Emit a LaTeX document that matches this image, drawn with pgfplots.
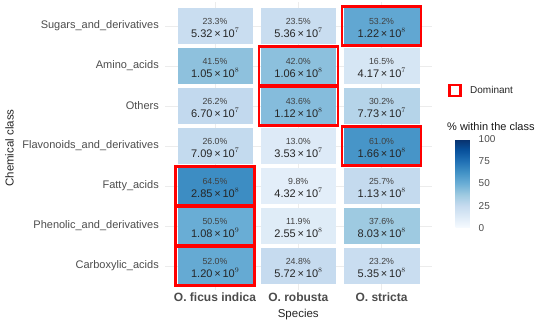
\documentclass[border=0pt]{standalone}
\usepackage{fontspec}
\setmainfont{Liberation Sans}
\usepackage{pgfplots}
\usepackage{pgfplotstable}
\pgfplotsset{compat=1.18}

\pgfplotstableread{
x y pct m e
1 7 23.3 5.32 7
1 6 41.5 1.05 8
1 5 26.2 6.70 7
1 4 26.0 7.09 7
1 3 64.5 2.85 8
1 2 50.5 1.08 9
1 1 52.0 1.20 9
2 7 23.5 5.36 7
2 6 42.0 1.06 8
2 5 43.6 1.12 8
2 4 13.0 3.53 7
2 3 9.8 4.32 7
2 2 11.9 2.55 8
2 1 24.8 5.72 8
3 7 53.2 1.22 8
3 6 16.5 4.17 7
3 5 30.2 7.73 7
3 4 61.0 1.66 8
3 3 25.7 1.13 8
3 2 37.6 8.03 8
3 1 23.2 5.35 8
}\tiles

\pgfplotstableread{
x y
1 3
1 2
1 1
2 6
2 5
3 7
3 4
}\dom

\begin{document}
\begin{tikzpicture}
\useasboundingbox (-165pt,-36pt) rectangle (385pt,290pt);
\begin{axis}[
  at={(0,0)}, anchor=south west,
  x=83.3pt, y=40pt,
  xmin=0.4, xmax=3.6, ymin=0.4, ymax=7.6,
  clip=false,
  axis line style={draw=none},
  tick style={draw=none},
  major tick length=0pt,
  xtick={1,2,3},
  xticklabels={O. ficus indica, O. robusta, O. stricta},
  ytick={1,2,3,4,5,6,7},
  yticklabels={Carboxylic\_acids, Phenolic\_and\_derivatives, Fatty\_acids, Flavonoids\_and\_derivatives, Others, Amino\_acids, Sugars\_and\_derivatives},
  xticklabel style={font=\bfseries\fontsize{12}{12}\selectfont, text=black!70, inner sep=0pt, anchor=north, yshift=-3pt},
  yticklabel style={font=\fontsize{11}{11}\selectfont, text=black!70, inner sep=0pt, anchor=east, xshift=-6pt},
  grid=major,
  major grid style={draw=gray!15, line width=0.6pt},
  xlabel={Species},
  ylabel={Chemical class},
  xlabel style={at={(axis description cs:0.5,-0.0868)}, anchor=center, font=\fontsize{11.5}{12}\selectfont, text=black!85},
  ylabel style={at={(axis description cs:-0.5836,0.493)}, anchor=center, font=\fontsize{11.5}{12}\selectfont, text=black!85},
  colormap={blues}{rgb255=(247,251,255) rgb255=(222,235,247) rgb255=(198,219,239) rgb255=(158,202,225) rgb255=(107,174,214) rgb255=(66,146,198) rgb255=(33,113,181) rgb255=(8,81,156) rgb255=(8,48,107)},
  point meta min=0, point meta max=100,
  colorbar,
  colorbar style={
    at={(parent axis.south west)}, anchor=south west, xshift=282pt, yshift=62pt,
    scale only axis, width=17pt, height=89pt,
    ytick={0,25,50,75,100},
    ytick pos=both, yticklabel pos=right,
    axis line style={draw=none},
    major tick length=3.5pt, tick align=inside,
    major tick style={white, line width=0.6pt},
    yticklabel style={font=\fontsize{10}{10}\selectfont, text=black!70, inner sep=0pt, anchor=west, xshift=6pt},
    /pgf/number format/assume math mode=true,
  },
]
\addplot[scatter, only marks, mark=square*, mark size=17.5pt,
  mark options={xscale=2.1286},
  scatter src=explicit,
  scatter/use mapped color={draw=mapped color, fill=mapped color, line width=0.1pt}]
  table[x=x, y=y, meta=pct] {\tiles};
\addplot[only marks, mark=square, mark size=19.5pt,
  mark options={xscale=2.0256, draw=red, line width=2.5pt}]
  table[x=x, y=y] {\dom};
\addplot[only marks, mark=none,
  point meta=explicit symbolic,
  nodes near coords={\pgfplotspointmeta\%},
  every node near coord/.append style={anchor=center, yshift=4.8pt, font=\fontsize{8.8}{9}\selectfont, text=black!75, inner sep=0pt}]
  table[x=x, y=y, meta=pct] {\tiles};
\addplot[only marks, mark=none,
  point meta=explicit symbolic,
  visualization depends on={\thisrow{e}\as\expo},
  nodes near coords={\pgfplotspointmeta\,×\,10\raisebox{0.42em}{\fontsize{7.5}{8}\selectfont\pgfmathprintnumber{\expo}}},
  every node near coord/.append style={anchor=center, yshift=-6.5pt, font=\fontsize{11}{11}\selectfont, text=black!85, inner sep=0pt}]
  table[x=x, y=y, meta=m] {\tiles};
\end{axis}
\draw[red, line width=2.2pt, fill=white] (284.5pt,194pt) rectangle (295.5pt,205pt);
\node[anchor=west, inner sep=0pt, font=\fontsize{10}{10}\selectfont, text=black!85] at (305pt,200pt) {Dominant};
\node[anchor=west, inner sep=0pt, font=\fontsize{11}{11}\selectfont, text=black!90] at (282pt,163pt) {\% within the class};
\end{tikzpicture}
\end{document}
